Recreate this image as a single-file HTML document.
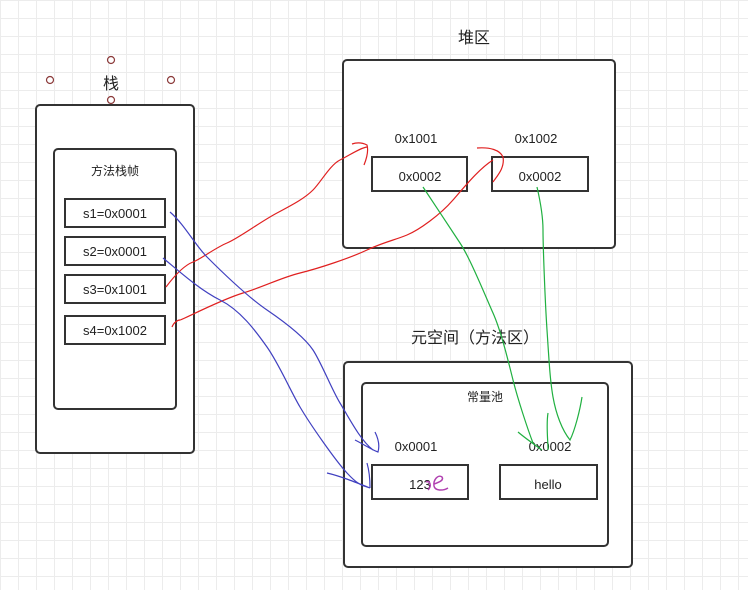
<!DOCTYPE html>
<html><head><meta charset="utf-8"><style>
body{margin:0;width:748px;height:590px;overflow:hidden;background:#fff;
background-image:linear-gradient(#ececec 1px,transparent 1px),linear-gradient(90deg,#ececec 1px,transparent 1px);background-size:18px 18px;}
svg{position:absolute;left:0;top:0}
text{font-family:"Liberation Sans","Noto Sans CJK SC",sans-serif;fill:#222}
</style></head><body>
<svg width="748" height="590" viewBox="0 0 748 590">
<g fill="#fff" stroke="#333" stroke-width="2">
<rect x="36" y="105" width="158" height="348" rx="4"/>
<rect x="54" y="149" width="122" height="260" rx="4"/>
<rect x="65" y="199" width="100" height="28"/>
<rect x="65" y="237" width="100" height="28"/>
<rect x="65" y="275" width="100" height="28"/>
<rect x="65" y="316" width="100" height="28"/>
<rect x="343" y="60" width="272" height="188" rx="4"/>
<rect x="372" y="157" width="95" height="34"/>
<rect x="492" y="157" width="96" height="34"/>
<rect x="344" y="362" width="288" height="205" rx="4"/>
<rect x="362" y="383" width="246" height="163" rx="4"/>
<rect x="372" y="465" width="96" height="34"/>
<rect x="500" y="465" width="97" height="34"/>
</g>
<g fill="none" stroke="#8b3a3a" stroke-width="1.2">
<circle cx="111" cy="60" r="3.5"/><circle cx="50" cy="80" r="3.5"/><circle cx="171" cy="80" r="3.5"/><circle cx="111" cy="100" r="3.5"/>
</g>
<text x="111" y="89" font-size="16" text-anchor="middle">栈</text>
<text x="115" y="175" font-size="12" text-anchor="middle">方法栈帧</text>
<g font-size="13" text-anchor="middle">
<text x="115" y="218">s1=0x0001</text>
<text x="115" y="256">s2=0x0001</text>
<text x="115" y="294">s3=0x1001</text>
<text x="115" y="335">s4=0x1002</text>
<text x="416" y="143">0x1001</text>
<text x="536" y="143">0x1002</text>
<text x="420" y="181">0x0002</text>
<text x="540" y="181">0x0002</text>
<text x="416" y="451">0x0001</text>
<text x="550" y="451">0x0002</text>
<text x="420" y="489">123</text>
<text x="548" y="489">hello</text>
</g>
<text x="474" y="43" font-size="16" text-anchor="middle">堆区</text>
<text x="475" y="343" font-size="16" text-anchor="middle">元空间（方法区）</text>
<text x="485" y="401" font-size="12" text-anchor="middle">常量池</text>
<g fill="none" stroke-width="1.2">
<path stroke="#e02020" d="M166,287 C175,275 185,265 193,262 S215,248 227,243 S260,222 277,213 S305,198 313,190 S330,165 340,160 S360,148 367,147 M352,144 C358,142 363,143 367,145 C369,152 366,160 364,165"/>
<path stroke="#e02020" d="M172,327 C174,322 178,320 180,320 S220,300 243,293 S280,278 300,273 S350,258 367,250 S395,240 407,235 S440,215 453,200 S480,168 493,160 M477,148 C490,147 500,150 503,157 C505,168 497,176 493,182"/>
<path stroke="#4040c0" d="M170,212 C185,225 195,245 207,257 S245,295 267,310 S305,338 313,350 S332,390 340,403 S360,440 373,450 M355,440 C365,445 372,450 378,452 C380,445 378,438 375,432"/>
<path stroke="#4040c0" d="M163,258 C180,272 200,290 220,300 S255,330 267,347 S290,390 300,407 S335,460 347,473 S362,485 370,488 M327,473 C340,476 355,482 370,488 M367,463 C369,470 370,478 370,488"/>
<path stroke="#20b040" d="M423,187 C435,205 450,228 460,243 S485,295 493,313 S508,360 513,380 S528,430 533,443 M518,432 C525,438 535,445 542,450"/>
<path stroke="#20b040" d="M537,187 C540,200 543,215 543,230 S545,300 547,330 S550,380 553,397 S562,430 570,440 C575,430 580,410 582,397 M548,413 C546,425 548,440 548,450"/>
<path stroke="#b040b0" stroke-width="1.5" d="M426,482 C430,480 432,486 428,490 M434,484 C440,482 444,480 442,477 C438,474 433,480 434,486 C435,491 443,491 448,488"/>
</g>
</svg>
</body></html>
